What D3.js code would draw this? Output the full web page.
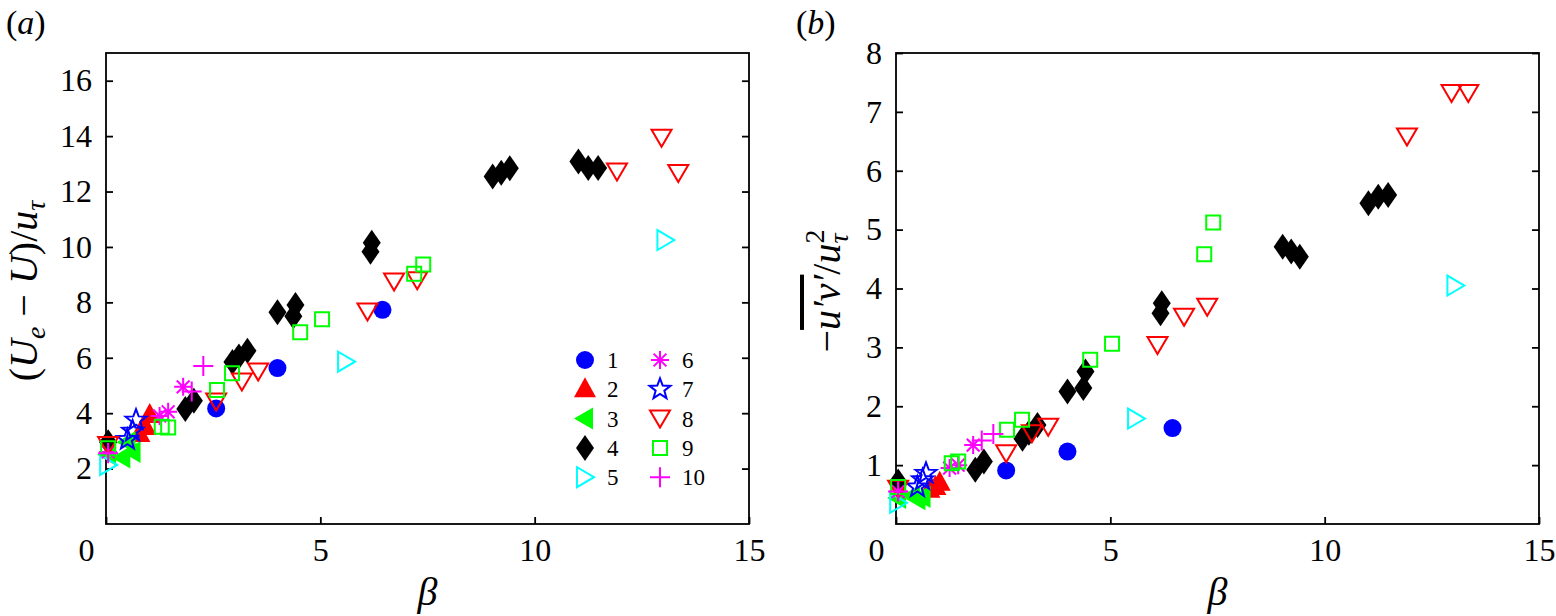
<!DOCTYPE html>
<html>
<head>
<meta charset="utf-8">
<script src="https://cdn.jsdelivr.net/npm/d3@7"></script>
<style>
  body { margin: 0; background: #fff; }
  svg text { font-family: "Liberation Serif", "Times New Roman", serif; fill: #000; }
</style>
</head>
<body>
<div id="plot"></div>
<script>
// beta, (Ue-U)/u_tau and -u'v'/u_tau^2 for every case
const beta1 = [2.57, 4.0, 6.45];
const defect1 = [4.17, 5.63, 7.73];
const stress1 = [0.91, 1.23, 1.63];

const beta2 = [0.78, 0.92, 1.02];
const defect2 = [3.25, 3.5, 3.93];
const stress2 = [0.58, 0.63, 0.7];

const beta3 = [0.05, 0.38, 0.5, 0.62];
const defect3 = [2.5, 2.4, 2.95, 2.6];
const stress3 = [0.44, 0.48, 0.42, 0.46];

const beta4 = [0.05, 1.85, 2.05, 2.95, 3.1, 3.3, 4.0, 4.37, 4.42, 6.17, 6.2, 9.02, 9.22, 9.42, 11.02, 11.25, 11.48];
const defect4 = [2.95, 4.15, 4.45, 5.85, 6.05, 6.25, 7.64, 7.5, 7.9, 9.83, 10.15, 12.54, 12.68, 12.84, 13.08, 12.85, 12.85];
const stress4 = [0.72, 0.92, 1.06, 1.45, 1.55, 1.68, 2.25, 2.31, 2.59, 3.58, 3.75, 4.71, 4.63, 4.54, 5.45, 5.56, 5.59];

const beta5 = [0.05, 5.6, 13.05];
const defect5 = [2.13, 5.86, 10.25];
const stress5 = [0.36, 1.79, 4.05];

const beta6 = [0.05, 1.25, 1.45, 1.8];
const defect6 = [2.6, 3.9, 4.05, 4.95];
const stress6 = [0.55, 0.95, 1.0, 1.34];

const beta7 = [0.5, 0.62, 0.7];
const defect7 = [3.05, 3.35, 3.75];
const stress7 = [0.63, 0.75, 0.86];

const beta8 = [0.05, 2.57, 3.17, 3.55, 6.1, 6.72, 7.26, 11.92, 12.96, 13.35];
const defect8 = [2.85, 4.42, 5.14, 5.5, 7.67, 8.75, 8.8, 12.72, 13.94, 12.67];
const stress8 = [0.6, 1.2, 1.54, 1.65, 3.04, 3.52, 3.69, 6.58, 7.32, 7.32];

const beta9 = [0.05, 1.3, 1.45, 2.59, 2.94, 4.53, 5.04, 7.19, 7.4];
const defect9 = [2.73, 3.51, 3.48, 4.84, 5.44, 6.92, 7.39, 9.03, 9.37];
const stress9 = [0.63, 1.03, 1.06, 1.6, 1.77, 2.79, 3.06, 4.58, 5.12];

const beta10 = [0.05, 2.0, 2.27];
const defect10 = [2.55, 4.78, 5.7];
const stress10 = [0.55, 1.42, 1.53];

const xTicks = [0, 5, 10, 15];
const defectTicks = [2, 4, 6, 8, 10, 12, 14, 16];
const stressTicks = [1, 2, 3, 4, 5, 6, 7, 8];

const cases = [
  {id: "1", beta: beta1, defect: defect1, stress: stress1, shape: "circle", color: "#0000ff"},
  {id: "2", beta: beta2, defect: defect2, stress: stress2, shape: "triUp", color: "#ff0000"},
  {id: "3", beta: beta3, defect: defect3, stress: stress3, shape: "triLeft", color: "#00ff00"},
  {id: "4", beta: beta4, defect: defect4, stress: stress4, shape: "diamond", color: "#000000"},
  {id: "5", beta: beta5, defect: defect5, stress: stress5, shape: "triRight", color: "#00ffff"},
  {id: "6", beta: beta6, defect: defect6, stress: stress6, shape: "asterisk", color: "#ff00ff"},
  {id: "7", beta: beta7, defect: defect7, stress: stress7, shape: "star", color: "#0000ff"},
  {id: "8", beta: beta8, defect: defect8, stress: stress8, shape: "triDown", color: "#ff0000"},
  {id: "9", beta: beta9, defect: defect9, stress: stress9, shape: "square", color: "#00ff00"},
  {id: "10", beta: beta10, defect: defect10, stress: stress10, shape: "plus", color: "#ff00ff"}
];

const filled = new Set(["circle", "triUp", "triLeft", "diamond"]);

function markerPath(shape) {
  switch (shape) {
    case "circle": return "M9,0A9,9 0 1,1 -9,0A9,9 0 1,1 9,0Z";
    case "triUp": return "M0,-12L11,8L-11,8Z";
    case "triLeft": return "M-11,0L8,-11L8,11Z";
    case "diamond": return "M0,-13L9,0L0,13L-9,0Z";
    case "triRight": return "M9,0L-8,-10L-8,10Z";
    case "triDown": return "M-10,-8L10,-8L0,9Z";
    case "square": return "M-7,-7H7V7H-7Z";
    case "plus": return "M-10,0H10M0,-10V10";
    case "asterisk": return "M-9,0H9M0,-9V9M-6.4,-6.4L6.4,6.4M-6.4,6.4L6.4,-6.4";
    case "star": {
      const p = d3.path();
      for (let i = 0; i < 10; i++) {
        const r = i % 2 ? 4.6 : 11;
        const a = -Math.PI / 2 + i * Math.PI / 5;
        if (i === 0) p.moveTo(r * Math.cos(a), r * Math.sin(a));
        else p.lineTo(r * Math.cos(a), r * Math.sin(a));
      }
      p.closePath();
      return p.toString();
    }
  }
}

function styleMarker(sel, d) {
  sel.attr("d", markerPath(d.shape))
    .attr("fill", filled.has(d.shape) ? d.color : "none")
    .attr("stroke", filled.has(d.shape) ? "none" : d.color)
    .attr("stroke-width", 2);
}

const W = 1556, H = 616;
const plotTop = 53, plotBottom = 524, plotW = 643;

const svg = d3.select("#plot")
  .append("svg")
  .attr("width", W)
  .attr("height", H);

const panels = [
  {key: "defect", tag: "a", left: 106, yMax: 17, yTicks: defectTicks},
  {key: "stress", tag: "b", left: 896, yMax: 8, yTicks: stressTicks}
];

panels.forEach(function(p) {
  const x = d3.scaleLinear().domain([0, 15]).range([p.left, p.left + plotW]);
  const y = d3.scaleLinear().domain([0, p.yMax]).range([plotBottom, plotTop]);
  const g = svg.append("g");

  // Bottom axis, ticks inward
  const xAxis = g.append("g")
    .attr("transform", `translate(0, ${plotBottom})`)
    .call(d3.axisBottom(x).tickValues(xTicks).tickSize(-7).tickPadding(14).tickFormat(d3.format("d")));
  xAxis.selectAll("text")
    .attr("font-size", 32)
    .attr("x", d => d === 0 ? -20 : 0);

  // Left axis
  const yAxis = g.append("g")
    .attr("transform", `translate(${p.left}, 0)`)
    .call(d3.axisLeft(y).tickValues(p.yTicks).tickSize(-7).tickPadding(14).tickFormat(d3.format("d")));
  yAxis.selectAll("text").attr("font-size", 32);

  // Mirror ticks on the right border
  g.append("g")
    .attr("transform", `translate(${p.left + plotW}, 0)`)
    .call(d3.axisRight(y).tickValues(p.yTicks).tickSize(-7).tickFormat(""));

  g.selectAll(".domain").remove();
  g.selectAll(".tick line").attr("stroke", "#000").attr("stroke-width", 1.8);

  // Frame
  g.append("rect")
    .attr("x", p.left)
    .attr("y", plotTop)
    .attr("width", plotW)
    .attr("height", plotBottom - plotTop)
    .attr("fill", "none")
    .attr("stroke", "#000")
    .attr("stroke-width", 1.8);

  // Points
  cases.forEach(function(c) {
    g.append("g")
      .selectAll("path")
      .data(c.beta.map((b, i) => ({b: b, v: c[p.key][i]})))
      .join("path")
      .attr("transform", d => `translate(${x(d.b)}, ${y(d.v)})`)
      .each(function() { styleMarker(d3.select(this), c); });
  });

  // Panel tag
  const tag = svg.append("text")
    .attr("x", p.left - 100)
    .attr("y", 34)
    .attr("font-size", 34);
  tag.append("tspan").text("(");
  tag.append("tspan").attr("font-style", "italic").text(p.tag);
  tag.append("tspan").text(")");

  // x label
  svg.append("text")
    .attr("x", p.left + plotW / 2)
    .attr("y", 605)
    .attr("text-anchor", "middle")
    .attr("font-size", 40)
    .attr("font-style", "italic")
    .text("β");
});

// y label (a)
const labA = svg.append("text")
  .attr("transform", "translate(37, 291) rotate(-90)")
  .attr("text-anchor", "middle")
  .attr("font-size", 40);
labA.append("tspan").text("(");
labA.append("tspan").attr("font-style", "italic").text("U");
labA.append("tspan").attr("font-style", "italic").attr("font-size", 28).attr("dy", 8).text("e");
labA.append("tspan").attr("dy", -8).text(" − ");
labA.append("tspan").attr("font-style", "italic").text("U");
labA.append("tspan").text(")/");
labA.append("tspan").attr("font-style", "italic").text("u");
labA.append("tspan").attr("font-style", "italic").attr("font-size", 28).attr("dy", 8).text("τ");

// y label (b)
const labB = svg.append("text")
  .attr("transform", "translate(840, 291) rotate(-90)")
  .attr("text-anchor", "middle")
  .attr("font-size", 40);
labB.append("tspan").text("−");
labB.append("tspan").attr("font-style", "italic")
  .style("text-decoration", "overline").text("u′v′");
labB.append("tspan").text("/");
labB.append("tspan").attr("font-style", "italic").text("u");
const tau = labB.append("tspan").attr("font-style", "italic").attr("font-size", 28).attr("dy", 8).text("τ");
const tauW = tau.node().getComputedTextLength();
labB.append("tspan").attr("font-size", 28).attr("dx", -tauW).attr("dy", -24).text("2");

// Legend inside panel (a)
const legX = [585, 660], legY0 = 360, legStep = 29.3;
const legend = svg.append("g");
cases.forEach(function(c, i) {
  const cx = legX[Math.floor(i / 5)];
  const cy = legY0 + (i % 5) * legStep;
  legend.append("path")
    .attr("transform", `translate(${cx}, ${cy})`)
    .call(styleMarker, c);
  legend.append("text")
    .attr("x", cx + 22)
    .attr("y", cy + 8)
    .attr("font-size", 23)
    .text(c.id);
});
</script>
</body>
</html>
